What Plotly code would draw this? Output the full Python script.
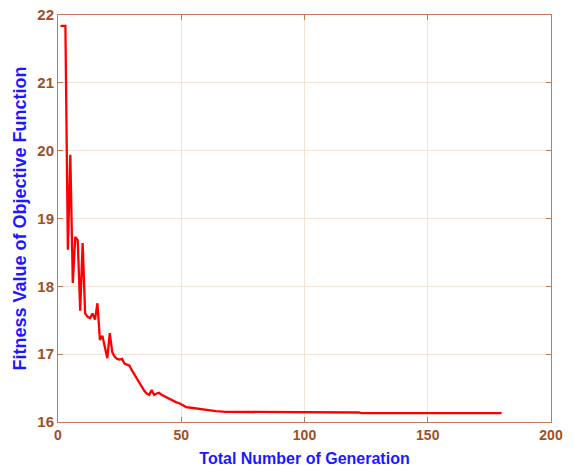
import plotly.graph_objects as go

# Best fitness per generation of the optimisation run
generation = [1, 2, 3, 4, 5, 6, 7, 8, 9, 10,
              11, 12, 13, 14, 15, 16, 17, 18, 19, 20,
              21, 22, 23, 24, 25, 26, 27, 28, 29, 30,
              31, 32, 33, 34, 35, 36, 37, 38, 39, 40,
              41, 42, 43, 44, 45, 46, 47, 48, 49, 50,
              51, 52, 54, 56, 58, 60, 64, 68, 75, 90,
              108, 109, 122, 123, 140, 160, 180]
fitness = [21.84, 21.84, 21.84, 18.54, 19.94, 18.05, 18.73, 18.68, 17.64, 18.64,
           17.60, 17.55, 17.53, 17.60, 17.51, 17.75, 17.21, 17.27, 17.10, 16.94,
           17.31, 17.03, 16.96, 16.93, 16.92, 16.93, 16.86, 16.84, 16.83, 16.76,
           16.70, 16.64, 16.56, 16.52, 16.46, 16.42, 16.40, 16.47, 16.40, 16.42,
           16.43, 16.40, 16.38, 16.36, 16.35, 16.33, 16.31, 16.29, 16.28, 16.26,
           16.24, 16.22, 16.21, 16.20, 16.19, 16.17, 16.16, 16.15, 16.15, 16.14,
           16.14, 16.14, 16.14, 16.13, 16.13, 16.13, 16.13]

x_ticks = [0, 50, 100, 150, 200]
y_ticks = [16, 17, 18, 19, 20, 21, 22]

frame = "#c27a52"
tick_font = dict(family="Liberation Sans", size=15, color="#a0501e", weight="bold")
title_font = dict(family="Liberation Sans", color="#1a1aff", weight="bold")
grid = "#f3e2d8"

fig = go.Figure()
fig.add_trace(go.Scatter(
    x=generation, y=fitness, mode="lines",
    line=dict(color="#ff0000", width=2.3),
    showlegend=False,
))

fig.update_layout(
    width=574, height=470,
    margin=dict(l=58, r=23, t=15, b=48),
    paper_bgcolor="white", plot_bgcolor="white",
    xaxis=dict(
        range=[0, 200], tickvals=x_ticks, showgrid=True, gridcolor=grid, gridwidth=1,
        zeroline=False, showline=True, linecolor=frame, linewidth=1, mirror="ticks",
        ticks="inside", ticklen=5, tickcolor=frame, tickfont=dict(tick_font, size=14),
        title=dict(text="Total Number of Generation", standoff=11,
                   font=dict(title_font, size=16)),
        automargin=False,
    ),
    yaxis=dict(
        range=[16, 22], tickvals=y_ticks, showgrid=True, gridcolor=grid, gridwidth=1,
        zeroline=False, showline=True, linecolor=frame, linewidth=1, mirror="ticks",
        ticks="inside", ticklen=5, tickcolor=frame, tickfont=tick_font,
        title=dict(text="Fitness Value of Objective Function", standoff=6,
                   font=dict(title_font, size=18)),
        automargin=False,
    ),
)

fig.write_html("out.html")
